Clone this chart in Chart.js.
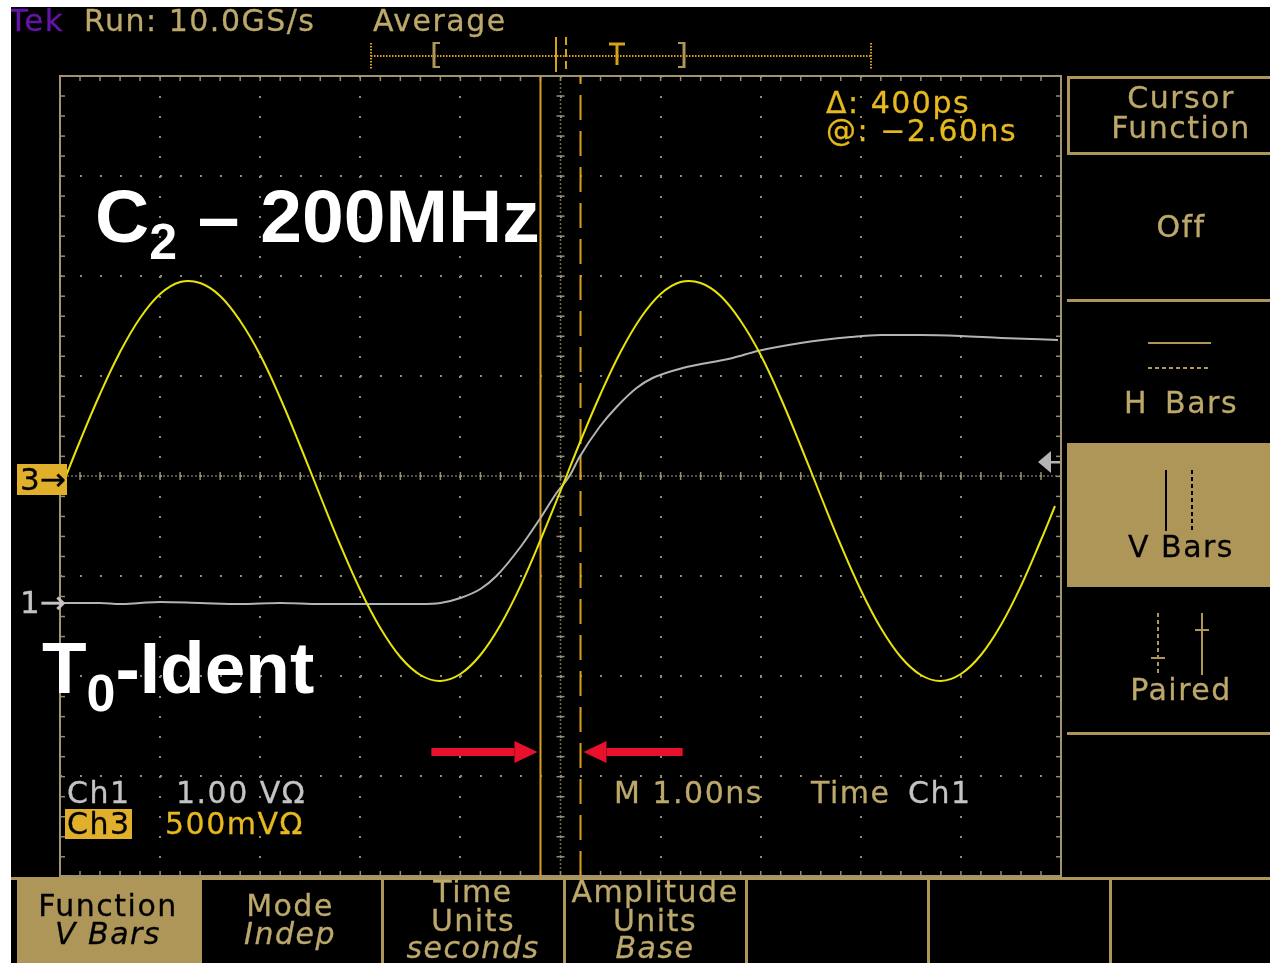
<!DOCTYPE html>
<html>
<head>
<meta charset="utf-8">
<title>Tek cursor screen - C2 200MHz vs T0-Ident</title>
<script src="https://cdn.jsdelivr.net/npm/chart.js@4.4.1/dist/chart.umd.min.js"></script>
<style>
  html, body { margin: 0; background: #fff; }
  #screen { position: absolute; left: 11px; top: 7px; width: 1259px; height: 956px; background: #000; overflow: hidden; }
  #page { position: absolute; left: -11px; top: -7px; width: 1270px; height: 963px; }
  #scope { position: absolute; left: 0; top: 0; }
  #labels { position: absolute; left: 0; top: 0; width: 1270px; height: 963px; }
  .t { position: absolute; white-space: nowrap; font-family: 'DejaVu Sans', sans-serif; letter-spacing: 1.5px; color: #bda86c; -webkit-text-stroke: 0.3px currentColor; }
  .big { position: absolute; white-space: nowrap; font-family: 'Liberation Sans', Arial, sans-serif; font-weight: bold; color: #fff; }
  .big span { line-height: 1; }
</style>
</head>
<body>
<div id="screen">
  <div id="page">
    <canvas id="scope" width="1270" height="963"></canvas>
    <div id="labels"></div>
  </div>
</div>
<script>
// Ch3 (yellow, 500mV/div) - C2 200MHz sine, time in ns, level in divisions
const ch3Time = [-5.0, -4.8, -4.6, -4.4, -4.2, -4.0, -3.8, -3.6, -3.4, -3.2, -3.0, -2.8, -2.6,
                 -2.4, -2.2, -2.0, -1.8, -1.6, -1.4, -1.2, -1.0, -0.8, -0.6, -0.4, -0.2,
                 0.0, 0.2, 0.4, 0.6, 0.8, 1.0, 1.2, 1.4, 1.6, 1.8, 2.0, 2.2, 2.4,
                 2.6, 2.8, 3.0, 3.2, 3.4, 3.6, 3.8, 4.0, 4.2, 4.4, 4.6, 4.8, 4.94];
const ch3Level = [-0.15, 0.35, 0.82, 1.24, 1.58, 1.82, 1.94, 1.93, 1.80, 1.55, 1.21, 0.78, 0.30,
                  -0.20, -0.69, -1.14, -1.52, -1.81, -1.99, -2.05, -1.98, -1.79, -1.49, -1.10, -0.64,
                  -0.15, 0.35, 0.82, 1.24, 1.58, 1.82, 1.94, 1.93, 1.80, 1.55, 1.21, 0.78, 0.30,
                  -0.20, -0.69, -1.14, -1.52, -1.81, -1.99, -2.05, -1.98, -1.79, -1.49, -1.10, -0.64, -0.30];

// Ch1 (grey, 1.00V/div) - T0-Ident edge
const ch1Time = [-5.0, -4.6, -4.4, -4.2, -4.0, -3.6, -3.2, -2.8, -2.4, -2.0, -1.6, -1.4, -1.2,
                 -1.0, -0.8, -0.64, -0.4, -0.2, -0.04, 0.09, 0.19, 0.39, 0.56, 0.76, 0.92,
                 1.22, 1.72, 1.97, 2.4, 2.9, 3.2, 3.6, 4.0, 4.4, 4.97];
const ch1Level = [-1.27, -1.27, -1.28, -1.27, -1.26, -1.27, -1.28, -1.27, -1.28, -1.28, -1.28, -1.28, -1.27,
                  -1.22, -1.13, -1.00, -0.71, -0.42, -0.17, 0.00, 0.19, 0.49, 0.69, 0.88, 0.98,
                  1.08, 1.18, 1.25, 1.33, 1.39, 1.41, 1.41, 1.40, 1.38, 1.36];

// V bar cursors (ns): delta 400ps
const cursorTimes = [-0.2, 0.2];
const ch1TriggerLevel = 0.14;

// graticule: 10 x 8 divisions
const xRange = [-5, 5];
const yRange = [-4, 4];

// red annotation arrows pointing at the cursors (tail, tip, level)
const arrowMarks = [
  { tail: -1.29, tip: -0.23, level: -2.76 },
  { tail: 1.22, tip: 0.23, level: -2.76 }
];

const TAN = '#ad9658';
const GRID = 'rgb(150,140,110)';
const CURSOR = '#d7a019';

const graticule = {
  id: 'graticule',
  beforeDatasetsDraw(chart) {
    const { ctx, chartArea: a, scales: { x, y } } = chart;
    const x0 = x.getPixelForValue(0), y0 = y.getPixelForValue(0);
    const minor = (x.getPixelForValue(1) - x0) / 5;
    ctx.save();
    ctx.fillStyle = GRID;
    // dense centre cross
    for (let px = a.left; px <= a.right; px += 4) ctx.fillRect(px - 0.75, y0 - 0.75, 1.5, 1.5);
    for (let py = a.top; py <= a.bottom; py += 4) ctx.fillRect(x0 - 0.75, py - 0.75, 1.5, 1.5);
    // minor ticks on centre cross and frame
    for (let px = a.left; px <= a.right + 0.5; px += minor) {
      ctx.fillRect(px - 0.75, y0 - 4, 1.5, 8);
      ctx.fillRect(px - 0.75, a.top, 1.5, 5);
      ctx.fillRect(px - 0.75, a.bottom - 5, 1.5, 5);
    }
    for (let py = a.top; py <= a.bottom + 0.5; py += minor) {
      ctx.fillRect(x0 - 4, py - 0.75, 8, 1.5);
      ctx.fillRect(a.left, py - 0.75, 5, 1.5);
      ctx.fillRect(a.right - 5, py - 0.75, 5, 1.5);
    }
    ctx.strokeStyle = 'rgb(160,148,112)';
    ctx.lineWidth = 2;
    ctx.strokeRect(a.left, a.top, a.right - a.left, a.bottom - a.top);
    ctx.restore();
  },
  afterDatasetsDraw(chart) {
    const { ctx, chartArea: a, scales: { x, y } } = chart;
    ctx.save();
    // red arrows
    ctx.fillStyle = '#e8112d';
    arrowMarks.forEach(m => {
      const tx = x.getPixelForValue(m.tail), hx = x.getPixelForValue(m.tip);
      const py = y.getPixelForValue(m.level);
      const dir = Math.sign(hx - tx), head = 23;
      const bx = hx - dir * head;
      ctx.fillRect(Math.min(tx, bx), py - 4, Math.abs(bx - tx), 8);
      ctx.beginPath();
      ctx.moveTo(hx, py);
      ctx.lineTo(bx, py - 11);
      ctx.lineTo(bx, py + 11);
      ctx.closePath();
      ctx.fill();
    });
    // ch1 trigger level marker on the right edge
    const ty = y.getPixelForValue(ch1TriggerLevel);
    ctx.fillStyle = '#b4b4b4';
    ctx.beginPath();
    ctx.moveTo(a.right - 23, ty);
    ctx.lineTo(a.right - 10, ty - 11);
    ctx.lineTo(a.right - 10, ty + 11);
    ctx.closePath();
    ctx.fill();
    ctx.fillRect(a.right - 11, ty - 1, 10, 2.5);
    ctx.restore();
  }
};

// menus, record bar and icons around the graticule
const panel = {
  id: 'panel',
  afterDraw(chart) {
    const ctx = chart.ctx;
    ctx.save();
    ctx.fillStyle = TAN;
    ctx.strokeStyle = TAN;
    ctx.lineWidth = 3;
    ctx.strokeRect(1068.5, 77.5, 240, 76);
    ctx.fillRect(1067, 299, 203, 3);
    ctx.fillRect(1067, 443, 203, 144);
    ctx.fillRect(1067, 732, 203, 3);
    ctx.fillRect(11, 877, 1259, 3);
    ctx.fillRect(17, 879, 182, 84);
    [199, 381, 563, 745, 927, 1109].forEach(px => ctx.fillRect(px, 879, 3, 84));

    // side-menu icons
    ctx.lineWidth = 2;
    const seg = (x1, y1, x2, y2, color, dash) => {
      ctx.strokeStyle = color;
      ctx.setLineDash(dash || []);
      ctx.beginPath(); ctx.moveTo(x1, y1); ctx.lineTo(x2, y2); ctx.stroke();
    };
    seg(1148, 343, 1211, 343, TAN);
    seg(1148, 368, 1211, 368, TAN, [4, 3]);
    seg(1166, 470, 1166, 531, '#000');
    seg(1192, 470, 1192, 531, '#000', [4, 3]);
    seg(1158, 613, 1158, 675, TAN, [4, 3]);
    seg(1151, 658, 1165, 658, TAN);
    seg(1202, 613, 1202, 675, TAN);
    seg(1195, 630, 1209, 630, TAN);

    // record-length bar
    seg(371, 56, 871, 56, CURSOR, [1.5, 1.5]);
    seg(371, 43, 371, 69, CURSOR, [1.5, 1.5]);
    seg(871, 43, 871, 69, CURSOR, [1.5, 1.5]);
    ctx.lineWidth = 3;
    seg(434, 42, 434, 68, TAN);
    seg(684, 42, 684, 68, TAN);
    ctx.lineWidth = 2;
    seg(433, 43, 440, 43, TAN);
    seg(433, 67, 440, 67, TAN);
    seg(678, 43, 685, 43, TAN);
    seg(678, 67, 685, 67, TAN);
    seg(556, 37, 556, 72, CURSOR);
    seg(566, 37, 566, 72, CURSOR, [8, 4]);
    ctx.lineWidth = 3;
    seg(609, 44, 625, 44, CURSOR);
    seg(617, 44, 617, 65, CURSOR);
    ctx.restore();
  }
};

const pts = (ts, vs) => ts.map((t, i) => ({ x: t, y: vs[i] }));
const cursorLine = t => [{ x: t, y: yRange[0] }, { x: t, y: yRange[1] }];

const chart = new Chart(document.getElementById('scope'), {
  type: 'line',
  data: {
    datasets: [
      { label: 'Ch3', data: pts(ch3Time, ch3Level), borderColor: '#e8e40a', borderWidth: 2, tension: 0.4, order: 1 },
      { label: 'Ch1', data: pts(ch1Time, ch1Level), borderColor: '#b4b4b4', borderWidth: 2, cubicInterpolationMode: 'monotone', order: 2 },
      { label: 'Cursor 1', data: cursorLine(cursorTimes[0]), borderColor: CURSOR, borderWidth: 2, order: 3 },
      { label: 'Cursor 2', data: cursorLine(cursorTimes[1]), borderColor: CURSOR, borderWidth: 2, borderDash: [25, 11], order: 3 }
    ]
  },
  options: {
    responsive: false,
    animation: false,
    parsing: false,
    layout: { padding: { left: 60, top: 76, right: 209, bottom: 87 } },
    elements: { point: { radius: 0 } },
    plugins: { legend: { display: false }, tooltip: { enabled: false } },
    scales: {
      x: {
        type: 'linear', min: xRange[0], max: xRange[1],
        ticks: { display: false, stepSize: 1 },
        grid: { color: GRID, lineWidth: 2, drawTicks: false },
        border: { display: false, dash: [2, 18] }
      },
      y: {
        type: 'linear', min: yRange[0], max: yRange[1],
        ticks: { display: false, stepSize: 1 },
        grid: { color: GRID, lineWidth: 2, drawTicks: false },
        border: { display: false, dash: [2, 18] }
      }
    }
  },
  plugins: [graticule, panel]
});

// pin the graticule to the screen position
const a = chart.chartArea;
const p = chart.options.layout.padding;
chart.options.layout.padding = {
  left: p.left + 60 - a.left,
  top: p.top + 76 - a.top,
  right: p.right + a.right - 1061,
  bottom: p.bottom + a.bottom - 876
};
chart.update('none');

// screen texts
const layer = document.getElementById('labels');
function label(text, x, base, o = {}) {
  const el = document.createElement('div');
  el.className = 't';
  const size = o.size || 30;
  el.textContent = text;
  el.style.fontSize = size + 'px';
  el.style.lineHeight = size + 'px';
  el.style.top = (base - 0.846 * size) + 'px';
  el.style.left = x + 'px';
  if (o.center) el.style.transform = 'translateX(-50%)';
  if (o.color) el.style.color = o.color;
  if (o.italic) el.style.fontStyle = 'italic';
  if (o.bg) { el.style.background = o.bg; el.style.padding = o.pad || '0 1px 0 2px'; }
  if (o.ls !== undefined) el.style.letterSpacing = o.ls + 'px';
  if (o.ws) el.style.wordSpacing = o.ws + 'px';
  layer.appendChild(el);
}
const GOLD = '#e6b91e', GREY = '#c4c4c4', BLACK = '#000';

label('Tek', 9, 31, { color: '#6414aa', size: 31 });
label('Run: 10.0GS/s', 84, 31);
label('Average', 373, 31);
label('Δ: 400ps', 826, 113, { color: GOLD });
label('@: −2.60ns', 826, 141, { color: GOLD });

label('Cursor', 1181, 108, { center: true });
label('Function', 1181, 138, { center: true });
label('Off', 1181, 237, { center: true });
label('H Bars', 1181, 413, { center: true, ws: 6 });
label('V Bars', 1181, 557, { center: true, color: BLACK });
label('Paired', 1181, 700, { center: true });

label('3→', 17, 490, { color: BLACK, bg: '#e0b02a', ls: 0, size: 31, pad: '0 1px 0 3px' });
label('1→', 20, 613, { color: GREY, ls: 0, size: 31 });

label('Ch1', 67, 803, { color: GREY });
label('1.00 VΩ', 176, 803, { color: GREY });
label('Ch3', 65, 834, { color: BLACK, bg: '#e0b02a' });
label('500mVΩ', 165, 834, { color: GOLD });
label('M 1.00ns', 614, 803);
label('Time', 811, 803);
label('Ch1', 908, 803, { color: GREY });

label('Function', 108, 916, { center: true, color: BLACK });
label('V Bars', 108, 944, { center: true, color: BLACK, italic: true });
label('Mode', 290, 916, { center: true });
label('Indep', 290, 944, { center: true, italic: true });
label('Time', 473, 902, { center: true });
label('Units', 473, 931, { center: true });
label('seconds', 473, 958, { center: true, italic: true });
label('Amplitude', 655, 902, { center: true });
label('Units', 655, 931, { center: true });
label('Base', 655, 958, { center: true, italic: true });

// slide annotations
function bigLabel(html, x, base, size) {
  const el = document.createElement('div');
  el.className = 'big';
  el.innerHTML = html;
  el.style.fontSize = size + 'px';
  el.style.lineHeight = size + 'px';
  el.style.top = (base - 0.8465 * size) + 'px';
  el.style.left = x + 'px';
  layer.appendChild(el);
}
bigLabel('C<span style="font-size:50px;vertical-align:-17px">2</span> – 200MHz', 95, 242, 75);
bigLabel('T<span style="font-size:52px;vertical-align:-18px">0</span>-Ident', 42, 693, 73);
</script>
</body>
</html>
